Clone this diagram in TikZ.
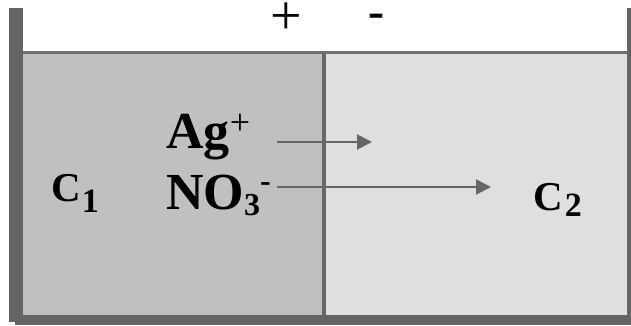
\documentclass[tikz,border=0pt]{standalone}
\usepackage{fontspec}
\setmainfont{Liberation Serif}
\usetikzlibrary{arrows.meta}
\definecolor{wallgray}{HTML}{646464}
\definecolor{rimgray}{HTML}{707070}
\definecolor{leftfill}{HTML}{C0C0C0}
\definecolor{rightfill}{HTML}{DFDFDF}
\definecolor{flowgray}{HTML}{666666}
\tikzset{
  x=1pt, y=1pt,
  ion/.style={anchor=base west, inner sep=0pt, font=\fontsize{52}{52}\selectfont\bfseries},
  conc/.style={anchor=base west, inner sep=0pt, font=\fontsize{41}{41}\selectfont\bfseries},
  pole/.style={anchor=center, inner sep=0pt},
  flow/.style={draw=flowgray, line width=2pt, -{Triangle[length=15pt, width=15pt]}}
}
% lowered index: #1 = drop, #2 = size, #3 = text
\newcommand{\lowidx}[3]{\raisebox{-#1}{\fontsize{#2}{#2}\selectfont #3}}
% raised charge: #1 = rise, #2 = size, #3 = text
\newcommand{\charge}[3]{\raisebox{#1}{\fontsize{#2}{#2}\selectfont #3}}
\begin{document}
\begin{tikzpicture}
\useasboundingbox (0,0) rectangle (631,325);
% compartments
\fill[leftfill] (23,10) rectangle (322,271);
\fill[rightfill] (326,10) rectangle (627,271);
% membrane between the two compartments
\fill[flowgray] (322,10) rectangle (326,271);
% rim of the vessel
\fill[rimgray] (23,271) rectangle (627,274);
% vessel walls
\fill[wallgray] (9,3) rectangle (23,317);
\fill[wallgray] (15,0) rectangle (631,10);
\fill[wallgray] (627,0) rectangle (631,317);
% electrode signs
\node[pole, font=\fontsize{56}{56}\selectfont] (plus) at (286,306) {+};
\node[pole, font=\fontsize{48}{48}\selectfont\bfseries] (minus) at (376.7,304) {-};
% labels
\node[conc] (c1) at (51,123.3) {C\hspace{1pt}\lowidx{11pt}{34}{1}};
\node[conc] (c2) at (533,115) {C\hspace{2pt}\lowidx{6pt}{34}{2}};
\node[ion] (ag) at (166,177) {Ag\charge{14pt}{36}{\mdseries +}};
\node[ion] (no) at (166,116) {NO\lowidx{6pt}{32}{3}\charge{18pt}{32}{-}};
% ion flows through the membrane
\coordinate (agtail) at (277,183);
\coordinate (aghead) at (372,183);
\coordinate (notail) at (277,138);
\coordinate (nohead) at (491,138);
\draw[flow] (agtail) -- (aghead);
\draw[flow] (notail) -- (nohead);
\end{tikzpicture}
\end{document}
